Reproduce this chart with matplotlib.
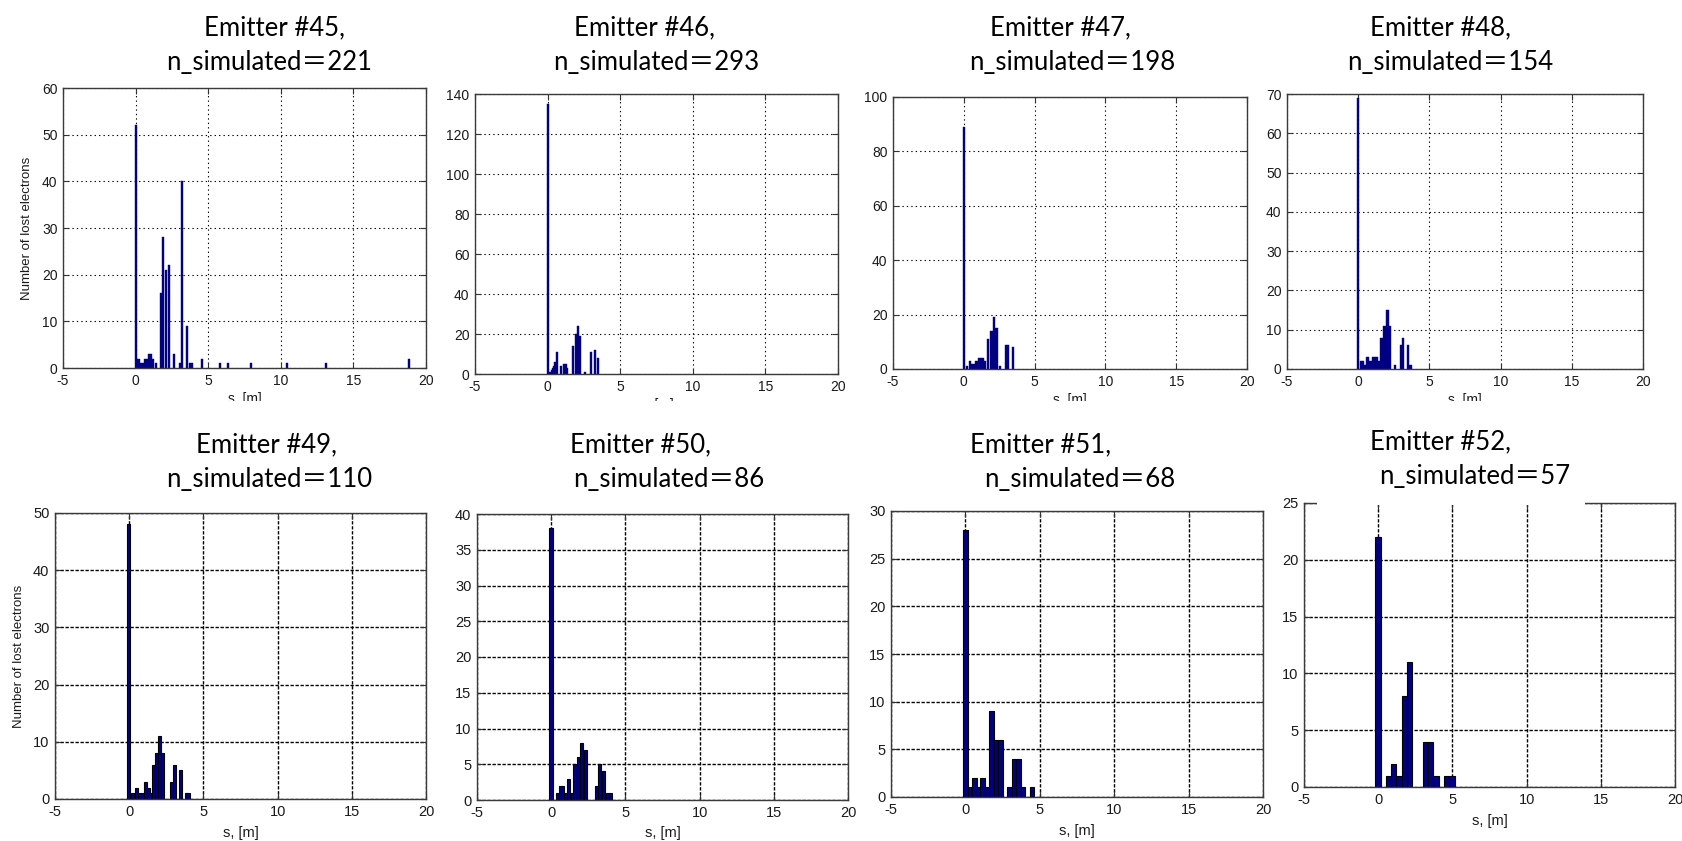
import matplotlib
matplotlib.use("Agg")
import matplotlib.pyplot as plt
from matplotlib.patches import Rectangle

plt.rcParams["axes.unicode_minus"] = False

W, H = 1682, 841

# ---------------- data ----------------
emitters = [45, 46, 47, 48, 49, 50, 51, 52]
n_simulated = [221, 293, 198, 154, 110, 86, 68, 57]

s45 = [0.0, 0.12, 0.25, 0.39, 0.53, 0.67, 0.80, 0.94, 1.08, 1.22, 1.41,
       1.76, 1.92, 2.12, 2.28, 2.64, 3.05, 3.19, 3.56, 3.77, 3.90,
       4.58, 5.84, 6.37, 7.92, 10.40, 13.13, 18.80]
c45 = [52, 2, 2, 1, 1, 2, 2, 3, 3, 2, 1,
       16, 28, 21, 22, 3, 1, 40, 9, 1, 1,
       2, 1, 1, 1, 1, 1, 2]

s46 = [0.0, 0.17, 0.28, 0.37, 0.45, 0.52, 0.65, 0.91, 1.13, 1.25, 1.36,
       1.73, 1.95, 2.11, 2.25, 2.60, 3.00, 3.24, 3.44]
c46 = [135, 1, 2, 3, 4, 6, 11, 4, 5, 5, 3,
       14, 20, 24, 19, 1, 11, 12, 8]

s47 = [0.0, 0.25, 0.42, 0.60, 0.74, 0.90, 1.05, 1.19, 1.35, 1.47,
       1.72, 1.96, 2.13, 2.31, 2.55, 2.96, 3.14, 3.46]
c47 = [89, 1, 3, 2, 2, 3, 4, 4, 4, 3,
       11, 14, 19, 15, 1, 9, 9, 8]

s48 = [0.0, 0.20, 0.34, 0.49, 0.66, 0.86, 1.07, 1.27, 1.44,
       1.63, 1.84, 2.04, 2.23, 2.58, 3.00, 3.16, 3.51, 3.68]
c48 = [69, 2, 2, 1, 3, 2, 3, 3, 2,
       8, 11, 15, 11, 1, 6, 8, 6, 1]

s49 = [-0.03, 0.25, 0.48, 0.68, 0.87, 1.07, 1.28, 1.46, 1.64, 1.84, 2.03, 2.23,
       2.86, 3.08, 3.45, 3.84, 4.02]
c49 = [48, 1, 2, 1, 1, 3, 2, 1, 6, 8, 11, 8,
       3, 6, 5, 1, 1]

s50 = [-0.01, 0.40, 0.61, 0.77, 0.94, 1.17, 1.41, 1.61, 1.82, 2.06, 2.31,
       3.05, 3.27, 3.52, 3.77, 3.99]
c50 = [38, 1, 2, 2, 1, 3, 1, 5, 6, 8, 7,
       2, 5, 4, 1, 1]

s51 = [0.01, 0.32, 0.62, 0.90, 1.16, 1.44, 1.75, 2.06, 2.36,
       2.96, 3.27, 3.57, 3.86, 4.48]
c51 = [28, 1, 2, 1, 2, 1, 9, 6, 6,
       1, 4, 4, 1, 1]

s52 = [-0.02, 0.70, 1.05, 1.41, 1.76, 2.11, 3.20, 3.54, 3.90, 4.62, 4.98]
c52 = [22, 1, 2, 1, 8, 11, 4, 4, 1, 1, 1]

x_ticks = [-5, 0, 5, 10, 15, 20]
y_max = [60, 140, 100, 70, 50, 40, 30, 25]
y_step = [10, 20, 20, 10, 10, 5, 5, 5]
xlabel = "s, [m]"
ylabel = "Number of lost electrons"

# ---------------- layout (pixels: left, top, right, bottom) ----------------
boxes = [(63, 88, 426, 368), (475, 94, 838, 374), (893, 97, 1247, 369), (1287, 94, 1643, 369),
         (55, 513, 426, 799), (477, 514, 848, 800), (891, 511, 1263, 797), (1304, 503, 1675, 787)]
bar_w = [0.14, 0.14, 0.15, 0.18, 0.21, 0.215, 0.30, 0.355]
title1_xy = [(274, 35), (644, 35), (1060, 35), (1441, 35),
             (267, 452), (641, 452), (1041, 452), (1441, 449)]
title2_xy = [(269, 70), (656, 70), (1072, 70), (1450, 70),
             (269, 487), (669, 487), (1080, 487), (1475, 484)]

series = [(s45, c45), (s46, c46), (s47, c47), (s48, c48),
          (s49, c49), (s50, c50), (s51, c51), (s52, c52)]

fig = plt.figure(figsize=(W / 100, H / 100), dpi=100)
fig.patch.set_facecolor("white")

tick_family = ["Liberation Sans", "DejaVu Sans"]
title_family = ["Lato", "Noto Sans CJK SC", "DejaVu Sans"]
navy = "#000080"

for i in range(8):
    l, t, r, b = boxes[i]
    ax = fig.add_axes([l / W, 1 - b / H, (r - l) / W, (b - t) / H])
    s, c = series[i]
    top_row = i < 4
    if top_row:
        ax.bar(s, c, width=bar_w[i], color=navy, edgecolor=navy, linewidth=0.3, zorder=2)
        gls = (0, (1.2, 2.8))
        glw = 0.8
        tsize = 10
    else:
        ax.bar(s, c, width=bar_w[i], color=navy, edgecolor="black", linewidth=0.8, zorder=2)
        gls = (0, (2.4, 1.2))
        glw = 1.0
        tsize = 10.5
    ax.set_xlim(-5, 20)
    ax.set_ylim(0, y_max[i])
    ax.set_xticks(x_ticks)
    ax.set_yticks(list(range(0, y_max[i] + 1, y_step[i])))
    ax.set_axisbelow(True)
    ax.grid(True, color="black", linestyle=gls, linewidth=glw)
    ax.tick_params(direction="in", top=True, right=True, length=4, width=0.8,
                   color="#333333", pad=4, labelcolor="#1a1a1a")
    for lab in ax.get_xticklabels() + ax.get_yticklabels():
        lab.set_fontfamily(tick_family)
        lab.set_fontsize(tsize)
    for sp in ax.spines.values():
        sp.set_color("#3a3a3a")
        sp.set_linewidth(1.0)
    ax.set_xlabel(xlabel, fontsize=10.5 if not top_row else 10, family=tick_family,
                  color="#1a1a1a", labelpad=3 if top_row else 5)
    if i in (0, 4):
        ax.set_ylabel(ylabel, fontsize=9.5, family=tick_family,
                      color="#1a1a1a", labelpad=6)

# white strip cutting off the top-row x labels (as in the reference screenshot)
fig.patches.append(Rectangle((0, 1 - 421 / H), 1, 20 / H, transform=fig.transFigure,
                             facecolor="white", edgecolor="none", zorder=20))
# white title box over the top spine of the last panel
fig.patches.append(Rectangle((1317 / W, 1 - 505 / H), (1585 - 1317) / W, 14 / H,
                             transform=fig.transFigure, facecolor="white",
                             edgecolor="none", zorder=20))

for i in range(8):
    x1, y1 = title1_xy[i]
    x2, y2 = title2_xy[i]
    fig.text(x1 / W, 1 - y1 / H, f"Emitter #{emitters[i]},", ha="center", va="baseline",
             fontsize=18.5, family=title_family, color="black", zorder=30)
    fig.text(x2 / W, 1 - y2 / H, f"n_simulated＝{n_simulated[i]}", ha="center",
             va="baseline", fontsize=18.5, family=title_family, color="black", zorder=30)

fig.savefig("out.png", dpi=100, facecolor="white")
